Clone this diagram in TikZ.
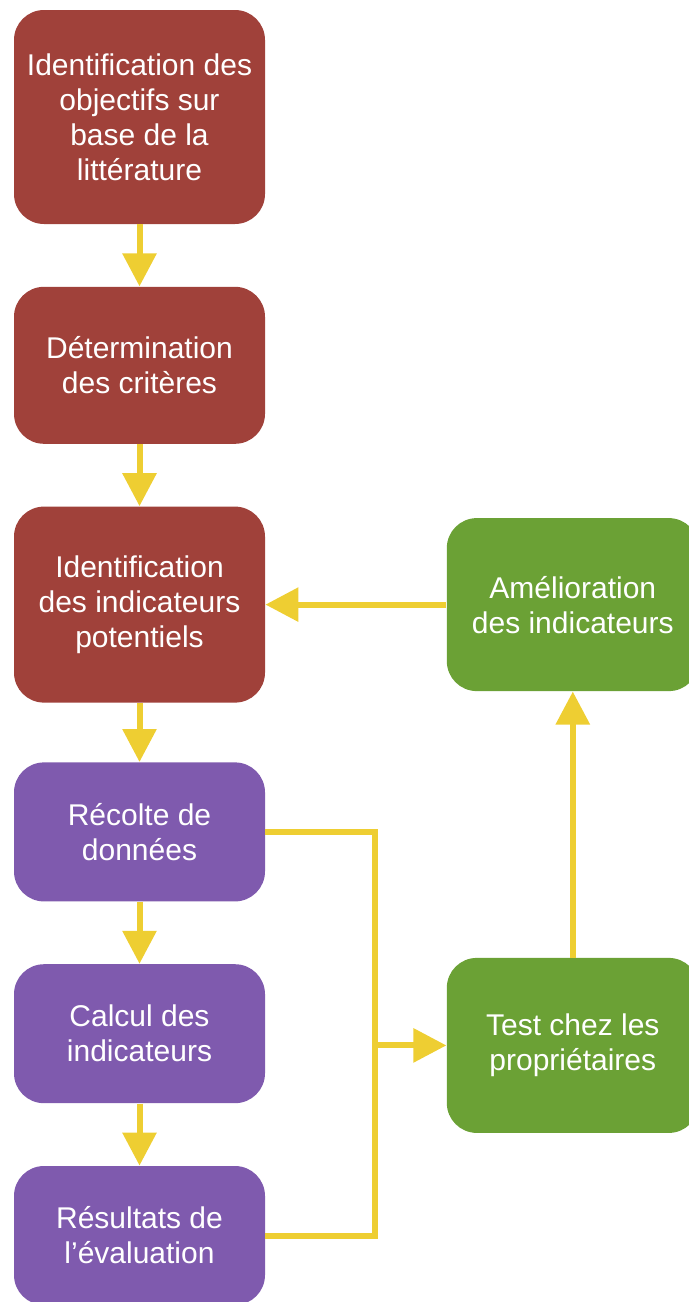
\documentclass[tikz,border=0pt]{standalone}
\usepackage{fontspec}
\setmainfont{Liberation Sans}
\usepackage{xcolor}
\usepackage{tikz}
\usetikzlibrary{arrows.meta, positioning}

\definecolor{brique}{HTML}{A0413A}
\definecolor{mauve}{HTML}{7F5AAE}
\definecolor{feuille}{HTML}{6BA135}
\definecolor{jaune}{HTML}{EECE32}

\begin{document}
\begin{tikzpicture}[
  node distance=31pt and 90.5pt,
  etape/.style={rectangle, rounded corners=15pt, fill=#1, text=white,
                minimum width=125.5pt, align=center, inner sep=0pt,
                font=\fontsize{15}{17.5}\selectfont},
  etape/.default=brique,
  lien/.style={line width=3pt, jaune},
  fleche/.style={lien, -{Triangle[length=16.5pt, width=16.5pt]}},
]
  \useasboundingbox (0,0) rectangle (344.5pt,-651pt);

  % ── Conception ──
  \node[etape, minimum height=107pt] (objectifs) at (69.75pt,-58.5pt)
    {Identification des\\objectifs sur\\base de la\\littérature};
  \node[etape, minimum height=78.5pt, below=of objectifs] (criteres)
    {Détermination\\des critères};
  \node[etape, minimum height=98pt, below=of criteres] (potentiels)
    {Identification\\des indicateurs\\potentiels};

  % ── Application ──
  \node[etape=mauve, minimum height=69.5pt, below=29.5pt of potentiels] (recolte)
    {Récolte de\\données};
  \node[etape=mauve, minimum height=69.5pt, below=of recolte] (calcul)
    {Calcul des\\indicateurs};
  \node[etape=mauve, minimum height=69.5pt, below=of calcul] (resultats)
    {Résultats de\\l’évaluation};

  % ── Validation ──
  \node[etape=feuille, minimum width=126pt, minimum height=86.5pt,
        right=of potentiels] (amelioration) {Amélioration\\des indicateurs};
  \node[etape=feuille, minimum width=126pt, minimum height=87.5pt,
        below=133pt of amelioration] (test) {Test chez les\\propriétaires};

  % ── Flèches ──
  \draw[fleche] (objectifs) -- (criteres);
  \draw[fleche] (criteres) -- (potentiels);
  \draw[fleche] (potentiels) -- (recolte);
  \draw[fleche] (recolte) -- (calcul);
  \draw[fleche] (calcul) -- (resultats);

  \coordinate[right=55pt of recolte.east] (jonction);
  \draw[lien] (recolte.east) -- (jonction) |- (resultats.east);
  \draw[fleche] (jonction |- test.west) -- (test.west);
  \draw[fleche] (test) -- (amelioration);
  \draw[fleche] (amelioration) -- (potentiels);
\end{tikzpicture}
\end{document}
